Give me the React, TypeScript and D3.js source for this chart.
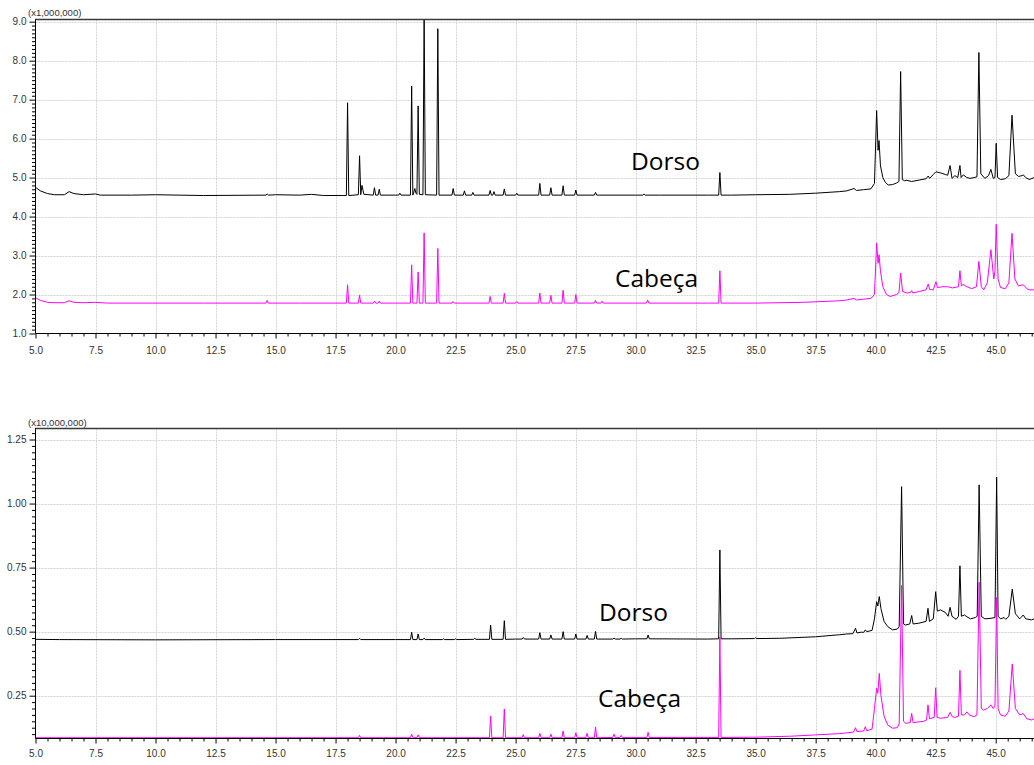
import { useEffect, useRef } from "react";
import * as d3 from "d3";

// Retention time (min) tick labels, shared by both chromatograms
const timeTicks = [5.0, 7.5, 10.0, 12.5, 15.0, 17.5, 20.0, 22.5, 25.0, 27.5, 30.0, 32.5, 35.0, 37.5, 40.0, 42.5, 45.0];
const topIntensityTicks = [1.0, 2.0, 3.0, 4.0, 5.0, 6.0, 7.0, 8.0, 9.0];
const bottomIntensityTicks = [0.25, 0.5, 0.75, 1.0, 1.25];

// Trace = baseline vertices [time, intensity] + sharp peaks [time, apex, foot, halfWidth?]
// Top chromatogram (x1,000,000)
const topDorsoBase = [
  [5.0, 4.75], [5.2, 4.66], [5.5, 4.59], [5.8, 4.56], [6.2, 4.56], [6.4, 4.64], [6.6, 4.59], [7.0, 4.56],
  [7.5, 4.58], [7.7, 4.55], [9.0, 4.55], [10.0, 4.56], [12.0, 4.54], [14.6, 4.55], [14.65, 4.58], [14.7, 4.55],
  [15.0, 4.56], [16.0, 4.55], [16.5, 4.57], [17.0, 4.54], [17.8, 4.54], [18.6, 4.8], [18.68, 4.57], [20.0, 4.55],
  [28.5, 4.55], [30.0, 4.55], [31.0, 4.55], [33.0, 4.55], [34.0, 4.55], [35.0, 4.56], [36.4, 4.57], [37.5, 4.6],
  [38.5, 4.64], [38.8, 4.66], [39.1, 4.72], [39.2, 4.67], [39.5, 4.69], [39.8, 4.71], [39.95, 4.85], [40.04, 6.72],
  [40.1, 5.7], [40.14, 5.95], [40.2, 5.3], [40.3, 5.0], [40.4, 4.88], [40.52, 4.81], [40.7, 4.82], [40.87, 4.86],
  [40.97, 4.9], [41.04, 7.72], [41.11, 4.95], [41.2, 4.92], [41.3, 4.93], [41.5, 4.9], [41.84, 4.94], [42.1, 4.97],
  [42.19, 5.04], [42.25, 4.98], [42.4, 5.08], [42.51, 5.15], [42.7, 5.12], [42.9, 5.08], [43.0, 5.06], [43.1, 5.31],
  [43.18, 4.98], [43.3, 5.05], [43.42, 5.0], [43.51, 5.31], [43.56, 5.0], [43.65, 5.07], [43.8, 5.0], [43.93, 4.98],
  [44.1, 5.0], [44.22, 5.02], [44.3, 8.21], [44.38, 5.1], [44.55, 4.98], [44.7, 5.05], [44.8, 5.21], [44.9, 4.98],
  [44.97, 5.0], [45.02, 5.88], [45.08, 5.0], [45.2, 4.95], [45.4, 4.97], [45.55, 5.05], [45.68, 6.6], [45.82, 5.1],
  [45.95, 5.03], [46.1, 5.05], [46.15, 5.07], [46.25, 5.0], [46.4, 4.95], [46.6, 5.0],
];
const topDorsoPeaks = [
  [18.0, 6.92, 4.54], [18.5, 5.56, 4.56], [19.12, 4.74, 4.55], [19.32, 4.7, 4.55], [20.18, 4.6, 4.55],
  [20.67, 7.35, 4.55], [20.8, 4.72, 4.6], [20.94, 6.84, 4.57], [21.19, 9.2, 4.56], [21.76, 8.82, 4.55],
  [22.4, 4.72, 4.55], [22.87, 4.66, 4.55], [23.22, 4.62, 4.55], [23.94, 4.67, 4.55], [24.1, 4.64, 4.55],
  [24.53, 4.71, 4.55], [25.05, 4.6, 4.55], [26.01, 4.85, 4.55], [26.47, 4.74, 4.55], [26.98, 4.79, 4.55],
  [27.51, 4.68, 4.55], [28.33, 4.62, 4.55], [30.35, 4.58, 4.55], [33.51, 5.13, 4.55],
];
const topCabecaBase = [
  [5.0, 1.92], [5.2, 1.85], [5.5, 1.8], [5.8, 1.79], [6.2, 1.79], [6.4, 1.84], [6.6, 1.8], [7.0, 1.79],
  [7.5, 1.8], [8.0, 1.78], [12.0, 1.78], [16.0, 1.78], [20.0, 1.78], [30.0, 1.78], [33.0, 1.78], [35.0, 1.78],
  [37.0, 1.8], [38.5, 1.84], [38.8, 1.86], [39.1, 1.9], [39.2, 1.86], [39.5, 1.88], [39.8, 1.9], [39.95, 2.0],
  [40.04, 3.32], [40.1, 2.8], [40.14, 3.02], [40.2, 2.6], [40.3, 2.2], [40.45, 2.0], [40.6, 1.95], [40.87, 2.0],
  [40.97, 2.05], [41.04, 2.55], [41.12, 2.08], [41.3, 2.04], [41.45, 2.05], [41.5, 2.1], [41.55, 2.04], [41.84, 2.08],
  [42.1, 2.12], [42.19, 2.27], [42.25, 2.13], [42.4, 2.12], [42.51, 2.33], [42.58, 2.18], [42.8, 2.2], [43.0, 2.2],
  [43.2, 2.17], [43.45, 2.2], [43.51, 2.61], [43.57, 2.22], [43.65, 2.26], [43.8, 2.2], [44.0, 2.15], [44.2, 2.2],
  [44.3, 2.85], [44.4, 2.2], [44.5, 2.12], [44.65, 2.3], [44.8, 3.15], [44.92, 2.4], [44.97, 2.6], [45.02, 3.8],
  [45.1, 2.4], [45.2, 2.18], [45.4, 2.15], [45.55, 2.3], [45.68, 3.57], [45.8, 2.4], [45.95, 2.22], [46.15, 2.25],
  [46.3, 2.15], [46.4, 2.12], [46.6, 2.12],
];
const topCabecaPeaks = [
  [14.65, 1.85, 1.78], [18.0, 2.25, 1.78], [18.5, 1.98, 1.78], [19.12, 1.83, 1.78], [19.32, 1.83, 1.78],
  [20.67, 2.76, 1.78], [20.94, 2.58, 1.78], [21.19, 3.58, 1.78], [21.76, 3.18, 1.78], [22.4, 1.82, 1.78],
  [23.94, 1.95, 1.78], [24.53, 2.03, 1.78], [25.05, 1.82, 1.78], [26.01, 2.04, 1.78], [26.47, 1.98, 1.78],
  [26.98, 2.11, 1.78], [27.51, 2.0, 1.78], [28.33, 1.85, 1.78], [28.6, 1.83, 1.78], [30.5, 1.86, 1.78],
  [33.51, 2.61, 1.78],
];

// Bottom chromatogram (x10,000,000)
const bottomDorsoBase = [
  [5.0, 0.47], [6.0, 0.469], [10.0, 0.468], [15.0, 0.469], [20.0, 0.469], [25.0, 0.471], [30.0, 0.472],
  [33.0, 0.471], [34.0, 0.472], [36.0, 0.474], [37.5, 0.48], [38.5, 0.488], [38.8, 0.491], [39.05, 0.492],
  [39.16, 0.513], [39.22, 0.495], [39.4, 0.498], [39.5, 0.497], [39.57, 0.507], [39.63, 0.5], [39.85, 0.505],
  [39.95, 0.55], [40.04, 0.617], [40.09, 0.6], [40.15, 0.637], [40.22, 0.59], [40.35, 0.54], [40.5, 0.52],
  [40.7, 0.507], [40.9, 0.51], [40.98, 0.52], [41.08, 1.066], [41.16, 0.53], [41.25, 0.526], [41.42, 0.53],
  [41.5, 0.563], [41.56, 0.53], [41.8, 0.533], [42.1, 0.54], [42.18, 0.591], [42.24, 0.54], [42.4, 0.55],
  [42.5, 0.656], [42.57, 0.58], [42.7, 0.585], [42.9, 0.575], [43.02, 0.56], [43.1, 0.595], [43.18, 0.56],
  [43.35, 0.548], [43.45, 0.56], [43.51, 0.757], [43.57, 0.56], [43.7, 0.565], [43.8, 0.558], [43.95, 0.55],
  [44.15, 0.555], [44.23, 0.56], [44.31, 1.073], [44.4, 0.56], [44.55, 0.55], [44.8, 0.552], [44.97, 0.555],
  [45.04, 1.103], [45.1, 0.56], [45.2, 0.55], [45.35, 0.555], [45.42, 0.548], [45.55, 0.56], [45.69, 0.666],
  [45.82, 0.57], [46.0, 0.55], [46.15, 0.565], [46.25, 0.55], [46.5, 0.546], [46.6, 0.55],
];
const bottomDorsoPeaks = [
  [18.5, 0.474, 0.469], [20.67, 0.498, 0.469], [20.94, 0.491, 0.469], [21.19, 0.475, 0.469],
  [22.0, 0.472, 0.469], [22.5, 0.472, 0.469], [23.3, 0.474, 0.47], [23.96, 0.526, 0.47], [24.53, 0.543, 0.47],
  [25.32, 0.477, 0.471], [26.01, 0.496, 0.471], [26.47, 0.487, 0.471], [26.98, 0.5, 0.471], [27.51, 0.491, 0.471],
  [27.98, 0.485, 0.471], [28.33, 0.501, 0.471], [29.1, 0.475, 0.471], [29.4, 0.474, 0.471], [30.52, 0.487, 0.472],
  [33.51, 0.819, 0.472], [35.0, 0.476, 0.473],
];
const bottomCabecaBase = [
  [5.0, 0.086], [10.0, 0.086], [20.0, 0.086], [30.0, 0.087], [33.0, 0.087], [35.0, 0.088], [36.5, 0.092],
  [37.5, 0.097], [38.5, 0.102], [38.8, 0.105], [39.08, 0.108], [39.16, 0.125], [39.22, 0.11], [39.5, 0.112],
  [39.57, 0.129], [39.63, 0.113], [39.85, 0.12], [39.95, 0.2], [40.04, 0.279], [40.09, 0.26], [40.15, 0.337],
  [40.22, 0.25], [40.35, 0.17], [40.5, 0.136], [40.7, 0.123], [40.9, 0.125], [40.98, 0.14], [41.08, 0.68],
  [41.16, 0.15], [41.25, 0.142], [41.44, 0.145], [41.5, 0.181], [41.56, 0.145], [42.0, 0.15], [42.12, 0.155],
  [42.18, 0.214], [42.24, 0.16], [42.44, 0.165], [42.5, 0.281], [42.56, 0.165], [42.7, 0.162], [43.0, 0.165],
  [43.1, 0.185], [43.2, 0.168], [43.3, 0.165], [43.45, 0.17], [43.51, 0.349], [43.57, 0.175], [43.7, 0.175],
  [43.8, 0.187], [43.9, 0.175], [44.1, 0.168], [44.22, 0.175], [44.31, 0.693], [44.4, 0.2], [44.5, 0.194],
  [44.65, 0.2], [44.8, 0.214], [44.9, 0.2], [44.97, 0.21], [45.04, 0.633], [45.1, 0.2], [45.2, 0.175],
  [45.4, 0.17], [45.55, 0.19], [45.69, 0.374], [45.82, 0.2], [46.0, 0.175], [46.15, 0.18], [46.3, 0.16],
  [46.5, 0.155], [46.6, 0.16],
];
const bottomCabecaPeaks = [
  [18.5, 0.095, 0.086], [20.67, 0.1, 0.086], [20.94, 0.097, 0.086], [23.96, 0.171, 0.086], [24.53, 0.198, 0.086],
  [25.32, 0.098, 0.086], [26.01, 0.103, 0.086], [26.47, 0.1, 0.086], [26.98, 0.112, 0.086], [27.51, 0.105, 0.086],
  [27.98, 0.103, 0.086], [28.33, 0.128, 0.086], [29.1, 0.1, 0.087], [29.4, 0.095, 0.087], [30.52, 0.107, 0.087],
  [33.51, 0.48, 0.087],
];

type Pt = [number, number];

// merge baseline vertices and peak triangles into one sorted vertex list
function buildTrace(base: number[][], peaks: number[][]): Pt[] {
  const windows = peaks.map(([t, , , hw = 0.05]) => [t - hw, t + hw]);
  const kept = base.filter(([t]) => !windows.some(([a, b]) => t >= a && t <= b)) as Pt[];
  const tri = peaks.flatMap(([t, apex, foot, hw = 0.05]) => [[t - hw, foot], [t, apex], [t + hw, foot]] as Pt[]);
  return [...kept, ...tri].sort((a, b) => a[0] - b[0]);
}

const W = 1034;
const H = 765;
const AXIS_FONT = "'Liberation Sans', Arial, sans-serif";

export default function App() {
  const ref = useRef<SVGSVGElement>(null);

  useEffect(() => {
    const svg = d3.select(ref.current);
    svg.selectAll("*").remove();

    const x = d3.scaleLinear().domain([5, 46.6]).range([35.5, 1034.1]);

    const panels = [
      {
        id: "top",
        y: d3.scaleLinear().domain([1.0, 9.056]).range([333.5, 19.5]),
        majors: topIntensityTicks,
        minorStep: 0.1,
        fmt: d3.format(".1f"),
        unit: "(x1,000,000)",
        unitY: 16,
        xPad: 8.7,
        series: [
          { name: "Dorso", color: "#000000", pts: buildTrace(topDorsoBase, topDorsoPeaks) },
          { name: "Cabeça", color: "#ff00ff", pts: buildTrace(topCabecaBase, topCabecaPeaks) },
        ],
        labels: [
          { text: "Dorso", x: 631, y: 169.5 },
          { text: "Cabeça", x: 615, y: 287 },
        ],
      },
      {
        id: "bottom",
        y: d3.scaleLinear().domain([0.0829, 1.293]).range([738.5, 428.5]),
        majors: bottomIntensityTicks,
        minorStep: 0.025,
        fmt: d3.format(".2f"),
        unit: "(x10,000,000)",
        unitY: 426,
        xPad: 6.5,
        series: [
          { name: "Dorso", color: "#000000", pts: buildTrace(bottomDorsoBase, bottomDorsoPeaks) },
          { name: "Cabeça", color: "#ff00ff", pts: buildTrace(bottomCabecaBase, bottomCabecaPeaks) },
        ],
        labels: [
          { text: "Dorso", x: 599, y: 620.7 },
          { text: "Cabeça", x: 598, y: 706.7 },
        ],
      },
    ];

    const xMinor = d3.range(5, 46.61, 0.5).filter(t => !timeTicks.some(m => Math.abs(m - t) < 1e-6));

    panels.forEach(p => {
      const [y0, y1] = p.y.range();
      const [d0, d1] = p.y.domain();
      const g = svg.append("g");

      g.append("clipPath").attr("id", `clip-${p.id}`)
        .append("rect")
        .attr("x", 35.5).attr("y", y1).attr("width", W - 35.5).attr("height", y0 - y1);

      // dotted grid
      g.append("g").selectAll("line")
        .data(timeTicks.filter(t => t > 5))
        .join("line")
        .attr("x1", d => Math.round(x(d)) + 0.5).attr("x2", d => Math.round(x(d)) + 0.5)
        .attr("y1", y1).attr("y2", y0)
        .attr("stroke", "#d4d4d4").attr("stroke-dasharray", "2,1");
      g.append("g").selectAll("line")
        .data(p.majors.filter(v => v > d0 + 1e-6))
        .join("line")
        .attr("x1", 35.5).attr("x2", W)
        .attr("y1", d => Math.round(p.y(d)) + 0.5).attr("y2", d => Math.round(p.y(d)) + 0.5)
        .attr("stroke", "#d4d4d4").attr("stroke-dasharray", "2,1");

      // traces
      const line = d3.line<Pt>().x(d => x(d[0])).y(d => p.y(d[1]));
      const traces = g.append("g").attr("clip-path", `url(#clip-${p.id})`);
      p.series.forEach(s => {
        traces.append("path")
          .attr("d", line(s.pts))
          .attr("fill", "none")
          .attr("stroke", s.color)
          .attr("stroke-width", 1)
          .attr("stroke-linejoin", "round");
      });

      // top frame
      g.append("line")
        .attr("x1", 35).attr("x2", W).attr("y1", y1).attr("y2", y1)
        .attr("stroke", "#3a3a3a").attr("stroke-width", 1.4);

      // y axis: minor then major ticks
      const yMinor = d3.range(Math.ceil(d0 / p.minorStep) * p.minorStep, d1, p.minorStep)
        .filter(v => !p.majors.some(m => Math.abs(m - v) < 1e-6));
      g.append("g").attr("transform", "translate(35.5,0)")
        .call(d3.axisLeft(p.y).tickValues(yMinor).tickSize(3.5).tickFormat(() => ""))
        .call(a => a.select(".domain").remove())
        .selectAll("line").attr("stroke", "#000");
      const yAx = g.append("g").attr("transform", "translate(35.5,0)")
        .call(d3.axisLeft(p.y).tickValues(p.majors).tickSize(6).tickSizeOuter(0).tickPadding(3).tickFormat(d => p.fmt(d as number)));
      yAx.select(".domain").attr("stroke", "#000").attr("d", `M0,${y0}V${y1}`);
      yAx.selectAll("text").attr("font-family", AXIS_FONT).attr("font-size", 10).attr("fill", "#333");

      // x axis
      g.append("g").attr("transform", `translate(0,${y0})`)
        .call(d3.axisBottom(x).tickValues(xMinor).tickSize(3).tickFormat(() => ""))
        .call(a => a.select(".domain").remove());
      const xAx = g.append("g").attr("transform", `translate(0,${y0})`)
        .call(d3.axisBottom(x).tickValues(timeTicks).tickSize(5).tickSizeOuter(0).tickPadding(p.xPad).tickFormat(d => d3.format(".1f")(d as number)));
      xAx.select(".domain").attr("stroke", "#000").attr("d", `M35.5,0H${W}`);
      xAx.selectAll("text").attr("font-family", AXIS_FONT).attr("font-size", 10).attr("fill", "#333");

      // multiplier label
      g.append("text")
        .attr("x", 28).attr("y", p.unitY)
        .attr("font-family", AXIS_FONT).attr("font-size", 9.5).attr("fill", "#333")
        .text(p.unit);

      // series names
      g.selectAll(".series-label")
        .data(p.labels)
        .join("text")
        .attr("class", "series-label")
        .attr("x", d => d.x).attr("y", d => d.y)
        .attr("font-family", "'Open Sans', sans-serif")
        .attr("font-size", 24.5)
        .attr("fill", "#000")
        .text(d => d.text);
    });
  }, []);

  return (
    <svg
      ref={ref}
      width={W}
      height={H}
      viewBox={`0 0 ${W} ${H}`}
      style={{ position: "absolute", left: 0, top: 0, background: "#fff" }}
    />
  );
}
